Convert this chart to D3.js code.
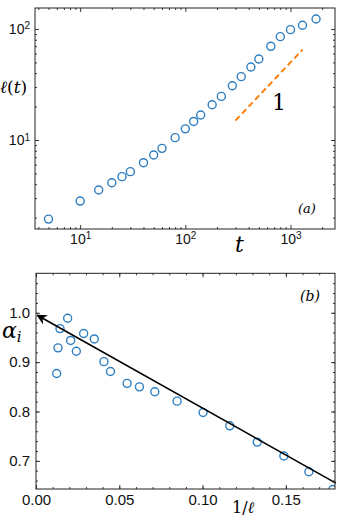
<!DOCTYPE html>
<html><head><meta charset="utf-8">
<script src="https://cdn.jsdelivr.net/npm/d3@7"></script>
<style>
html,body{margin:0;padding:0;background:#fff;}
svg{display:block;}
.tick text{font-family:"Liberation Sans",Arial,sans-serif;fill:#111;}
.ta .tick text{font-size:14px;}
.tb .tick text{font-size:15px;}
.domain{display:none;}
</style>
</head><body>
<script>
// Panel (a): l(t) vs t (log-log)
const tA = [5,10,15,20,25,30,40,50,60,80,100,120,140,180,220,280,340,420,500,650,800,1000,1300,1750];
const lA = [1.94,2.82,3.55,4.12,4.68,5.19,6.25,7.33,8.41,10.5,12.6,14.7,16.8,20.8,24.7,30.8,37.2,45.5,53.7,69.8,85.3,98.6,108,123];
const guideT = [300,1300];
const guideL = [15,65];
const xTicksA = [10,100,1000];
const yTicksA = [10,100];

// Panel (b): alpha_i vs 1/l
const invL = [0.0124,0.0132,0.0144,0.0190,0.0208,0.0242,0.0286,0.0350,0.0408,0.0447,0.0547,0.0621,0.0713,0.0847,0.1003,0.1163,0.1328,0.1488,0.1638,0.1782];
const alphaI = [0.877,0.929,0.968,0.989,0.944,0.922,0.958,0.947,0.901,0.881,0.857,0.850,0.840,0.821,0.798,0.771,0.738,0.710,0.678,0.642];
const fitX = [0.0008,0.18];
const fitA = [0.995,0.655];
const xTicksB = [0.00,0.05,0.10,0.15];
const yTicksB = [0.7,0.8,0.9,1.0];

const W=339,H=520;
const svg=d3.select("body").append("svg").attr("width",W).attr("height",H);
const blue="#2e7ec1", orange="#ff7f0e";
const serif='"DejaVu Serif","Liberation Serif",serif';

function frame(g,x0,x1,y0,y1){
  g.append("rect").attr("x",x0).attr("y",y0).attr("width",x1-x0).attr("height",y1-y0)
   .attr("fill","none").attr("stroke","#222").attr("stroke-width",1);
}
function styleAxis(sel){
  sel.selectAll(".tick line").attr("stroke","#222").attr("stroke-width",0.9);
}

// ---------- Panel A ----------
const ax0=35,ax1=335,ay0=8,ay1=229;
const xA=d3.scaleLog().domain([3.72,2650]).range([ax0,ax1]);
const yA=d3.scaleLog().domain([1.58,154.5]).range([ay1,ay0]);
function logMinor(dom){
  const out=[];
  for(let e=-1;e<5;e++)for(let k=2;k<10;k++){const v=k*Math.pow(10,e);if(v>=dom[0]&&v<=dom[1])out.push(v);}
  return out;
}
const gA=svg.append("g").attr("class","ta");
const supFmt=(sel)=>{
  sel.selectAll(".tick text").each(function(d){
    const e=Math.round(Math.log10(d));
    const t=d3.select(this);t.text("");
    t.append("tspan").text("10");
    t.append("tspan").attr("dy","-0.45em").attr("font-size","10px").text(e);
  });
};
// bottom
gA.append("g").attr("transform",`translate(0,${ay1})`)
  .call(d3.axisBottom(xA).tickValues(xTicksA).tickSize(-4).tickPadding(5).tickFormat(d=>d))
  .call(supFmt).call(styleAxis);
gA.append("g").attr("transform",`translate(0,${ay1})`)
  .call(d3.axisBottom(xA).tickValues(logMinor(xA.domain())).tickSize(-2).tickFormat(""))
  .call(styleAxis);
// top
gA.append("g").attr("transform",`translate(0,${ay0})`)
  .call(d3.axisTop(xA).tickValues(xTicksA).tickSize(-4).tickFormat("")).call(styleAxis);
gA.append("g").attr("transform",`translate(0,${ay0})`)
  .call(d3.axisTop(xA).tickValues(logMinor(xA.domain())).tickSize(-2).tickFormat("")).call(styleAxis);
// left
gA.append("g").attr("transform",`translate(${ax0},0)`)
  .call(d3.axisLeft(yA).tickValues(yTicksA).tickSize(-4).tickPadding(5).tickFormat(d=>d))
  .call(supFmt).call(styleAxis);
gA.append("g").attr("transform",`translate(${ax0},0)`)
  .call(d3.axisLeft(yA).tickValues(logMinor(yA.domain())).tickSize(-2).tickFormat("")).call(styleAxis);
// right
gA.append("g").attr("transform",`translate(${ax1},0)`)
  .call(d3.axisRight(yA).tickValues(yTicksA).tickSize(-4).tickFormat("")).call(styleAxis);
gA.append("g").attr("transform",`translate(${ax1},0)`)
  .call(d3.axisRight(yA).tickValues(logMinor(yA.domain())).tickSize(-2).tickFormat("")).call(styleAxis);
frame(gA,ax0,ax1,ay0,ay1);

// guide line
gA.append("line").attr("x1",xA(guideT[0])).attr("y1",yA(guideL[0]))
  .attr("x2",xA(guideT[1])).attr("y2",yA(guideL[1]))
  .attr("stroke",orange).attr("stroke-width",2).attr("stroke-dasharray","6,3.5");
// points
gA.selectAll("circle.p").data(tA).enter().append("circle")
  .attr("cx",(d)=>xA(d)).attr("cy",(d,i)=>yA(lA[i])).attr("r",4)
  .attr("fill","none").attr("stroke",blue).attr("stroke-width",1.4);
// labels
gA.append("text").attr("x",272).attr("y",110).attr("font-family",serif).attr("font-size","22px").text("1");
gA.append("text").attr("x",298).attr("y",213).attr("font-family",serif).attr("font-style","italic").attr("font-size","13px").text("(a)");
gA.append("text").attr("x",235).attr("y",252).attr("font-family",serif).attr("font-style","italic").attr("font-size","22px").text("t");
gA.append("text").attr("x",0).attr("y",93).attr("font-family",serif).attr("font-size","17px")
  .html('<tspan font-style="italic">ℓ</tspan>(<tspan font-style="italic">t</tspan>)');

// ---------- Panel B ----------
const bx0=36,bx1=335,by0=273.3,by1=489;
const xB=d3.scaleLinear().domain([0,0.1795]).range([bx0,bx1]);
const yB=d3.scaleLinear().domain([0.643,1.08]).range([by1,by0]);
const gB=svg.append("g").attr("class","tb");
const minorXB=d3.range(0,0.18,0.01);
const minorYB=d3.range(0.66,1.08,0.02);
gB.append("g").attr("transform",`translate(0,${by1})`)
  .call(d3.axisBottom(xB).tickValues(xTicksB).tickSize(-4).tickPadding(5).tickFormat(d3.format(".2f"))).call(styleAxis);
gB.append("g").attr("transform",`translate(0,${by1})`)
  .call(d3.axisBottom(xB).tickValues(minorXB).tickSize(-2).tickFormat("")).call(styleAxis);
gB.append("g").attr("transform",`translate(0,${by0})`)
  .call(d3.axisTop(xB).tickValues(xTicksB).tickSize(-4).tickFormat("")).call(styleAxis);
gB.append("g").attr("transform",`translate(0,${by0})`)
  .call(d3.axisTop(xB).tickValues(minorXB).tickSize(-2).tickFormat("")).call(styleAxis);
gB.append("g").attr("transform",`translate(${bx0},0)`)
  .call(d3.axisLeft(yB).tickValues(yTicksB).tickSize(-4).tickPadding(6).tickFormat(d3.format(".1f"))).call(styleAxis);
gB.append("g").attr("transform",`translate(${bx0},0)`)
  .call(d3.axisLeft(yB).tickValues(minorYB).tickSize(-2).tickFormat("")).call(styleAxis);
gB.append("g").attr("transform",`translate(${bx1},0)`)
  .call(d3.axisRight(yB).tickValues(yTicksB).tickSize(-4).tickFormat("")).call(styleAxis);
gB.append("g").attr("transform",`translate(${bx1},0)`)
  .call(d3.axisRight(yB).tickValues(minorYB).tickSize(-2).tickFormat("")).call(styleAxis);

svg.append("defs").call(d=>{
  d.append("clipPath").attr("id","clipB").append("rect").attr("x",bx0).attr("y",by0).attr("width",bx1-bx0).attr("height",by1-by0);
  d.append("marker").attr("id","arr").attr("viewBox","0 0 10 10").attr("refX",9).attr("refY",5)
   .attr("markerWidth",6.5).attr("markerHeight",6.5).attr("orient","auto-start-reverse")
   .append("path").attr("d","M0,0 L10,5 L0,10 L3,5 Z").attr("fill","#000");
});
const plotB=gB.append("g").attr("clip-path","url(#clipB)");
plotB.selectAll("circle").data(invL).enter().append("circle")
  .attr("cx",d=>xB(d)).attr("cy",(d,i)=>yB(alphaI[i])).attr("r",4)
  .attr("fill","none").attr("stroke",blue).attr("stroke-width",1.4);
gB.append("line").attr("x1",xB(fitX[1])).attr("y1",yB(fitA[1]))
  .attr("x2",xB(fitX[0])).attr("y2",yB(fitA[0]))
  .attr("stroke","#000").attr("stroke-width",1.6).attr("marker-end","url(#arr)");
frame(gB,bx0,bx1,by0,by1);

gB.append("text").attr("x",300).attr("y",301).attr("font-family",serif).attr("font-style","italic").attr("font-size","14px").text("(b)");
gB.append("text").attr("x",232).attr("y",513).attr("font-family",serif).attr("font-size","16px")
  .html('1/<tspan font-style="italic">ℓ</tspan>');
gB.append("text").attr("x",2).attr("y",338).attr("font-family",serif).attr("font-size","22px")
  .html('<tspan font-style="italic">α</tspan><tspan font-style="italic" font-size="15px" dy="4">i</tspan>');
</script>
</body></html>
